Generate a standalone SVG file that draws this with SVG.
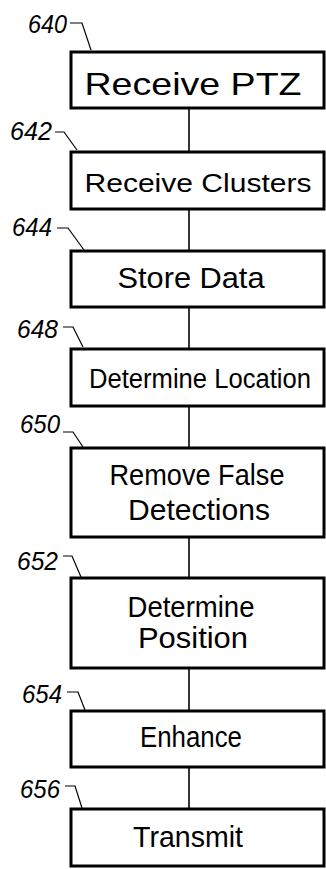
<svg xmlns="http://www.w3.org/2000/svg" width="326" height="869" viewBox="0 0 326 869">
<style>
.box{fill:#fff;stroke:#000;stroke-width:3}
.t{font-family:"Liberation Sans",Arial,sans-serif;font-size:29px;fill:#000;text-anchor:middle}
.lbl{font-family:"Liberation Sans",Arial,sans-serif;font-size:25px;font-style:italic;fill:#000}
.ld{fill:none;stroke:#000;stroke-width:1.2}
.cn{stroke:#000;stroke-width:1.6}
</style>
<rect width="326" height="869" fill="#fff"/>
<g id="connectors">
<line class="cn" x1="189" y1="108" x2="189" y2="152"/>
<line class="cn" x1="189" y1="209" x2="189" y2="251"/>
<line class="cn" x1="189" y1="307" x2="189" y2="349"/>
<line class="cn" x1="189" y1="406" x2="189" y2="448"/>
<line class="cn" x1="189" y1="537" x2="189" y2="578"/>
<line class="cn" x1="189" y1="668" x2="189" y2="711"/>
<line class="cn" x1="189" y1="767" x2="189" y2="809"/>
</g>
<g id="n640">
<rect class="box" x="71" y="52" width="253" height="56"/>
<text class="t" x="193" y="95" textLength="217" lengthAdjust="spacingAndGlyphs" style="font-size:32px">Receive PTZ</text>
<text class="lbl" x="28" y="33" textLength="39" lengthAdjust="spacingAndGlyphs">640</text>
<path class="ld" d="M70,23 H82 L91,50"/>
</g>
<g id="n642">
<rect class="box" x="71" y="152" width="253" height="57"/>
<text class="t" x="198" y="192" textLength="227" lengthAdjust="spacingAndGlyphs" style="font-size:26px">Receive Clusters</text>
<text class="lbl" x="10" y="140" textLength="42" lengthAdjust="spacingAndGlyphs">642</text>
<path class="ld" d="M55,132 H64 L77,150"/>
</g>
<g id="n644">
<rect class="box" x="71" y="251" width="253" height="56"/>
<text class="t" x="191" y="288" textLength="147" lengthAdjust="spacingAndGlyphs">Store Data</text>
<text class="lbl" x="12" y="236" textLength="40" lengthAdjust="spacingAndGlyphs">644</text>
<path class="ld" d="M57,228 H68 L84,250"/>
</g>
<g id="n648">
<rect class="box" x="71" y="349" width="253" height="57"/>
<text class="t" x="200" y="388" textLength="222" lengthAdjust="spacingAndGlyphs" style="font-size:27px">Determine Location</text>
<text class="lbl" x="17" y="338" textLength="41" lengthAdjust="spacingAndGlyphs">648</text>
<path class="ld" d="M63,327 H73 L83,347"/>
</g>
<g id="n650">
<rect class="box" x="71" y="448" width="253" height="89"/>
<text class="t" x="197" y="485" textLength="175" lengthAdjust="spacingAndGlyphs">Remove False</text>
<text class="t" x="199" y="520" textLength="142" lengthAdjust="spacingAndGlyphs">Detections</text>
<text class="lbl" x="20" y="433" textLength="40" lengthAdjust="spacingAndGlyphs">650</text>
<path class="ld" d="M63,432 H73 L83,447"/>
</g>
<g id="n652">
<rect class="box" x="71" y="578" width="253" height="90"/>
<text class="t" x="191" y="617" textLength="127" lengthAdjust="spacingAndGlyphs">Determine</text>
<text class="t" x="193" y="648" textLength="110" lengthAdjust="spacingAndGlyphs">Position</text>
<text class="lbl" x="17" y="570" textLength="41" lengthAdjust="spacingAndGlyphs">652</text>
<path class="ld" d="M63,556 H72 L81,577"/>
</g>
<g id="n654">
<rect class="box" x="71" y="711" width="253" height="56"/>
<text class="t" x="191" y="747" textLength="102" lengthAdjust="spacingAndGlyphs">Enhance</text>
<text class="lbl" x="22" y="703" textLength="40" lengthAdjust="spacingAndGlyphs">654</text>
<path class="ld" d="M67,692 H78 L85,710"/>
</g>
<g id="n656">
<rect class="box" x="71" y="809" width="253" height="57"/>
<text class="t" x="188" y="847" textLength="110" lengthAdjust="spacingAndGlyphs">Transmit</text>
<text class="lbl" x="20" y="798" textLength="40" lengthAdjust="spacingAndGlyphs">656</text>
<path class="ld" d="M65,786 H75 L82,808"/>
</g>
</svg>
